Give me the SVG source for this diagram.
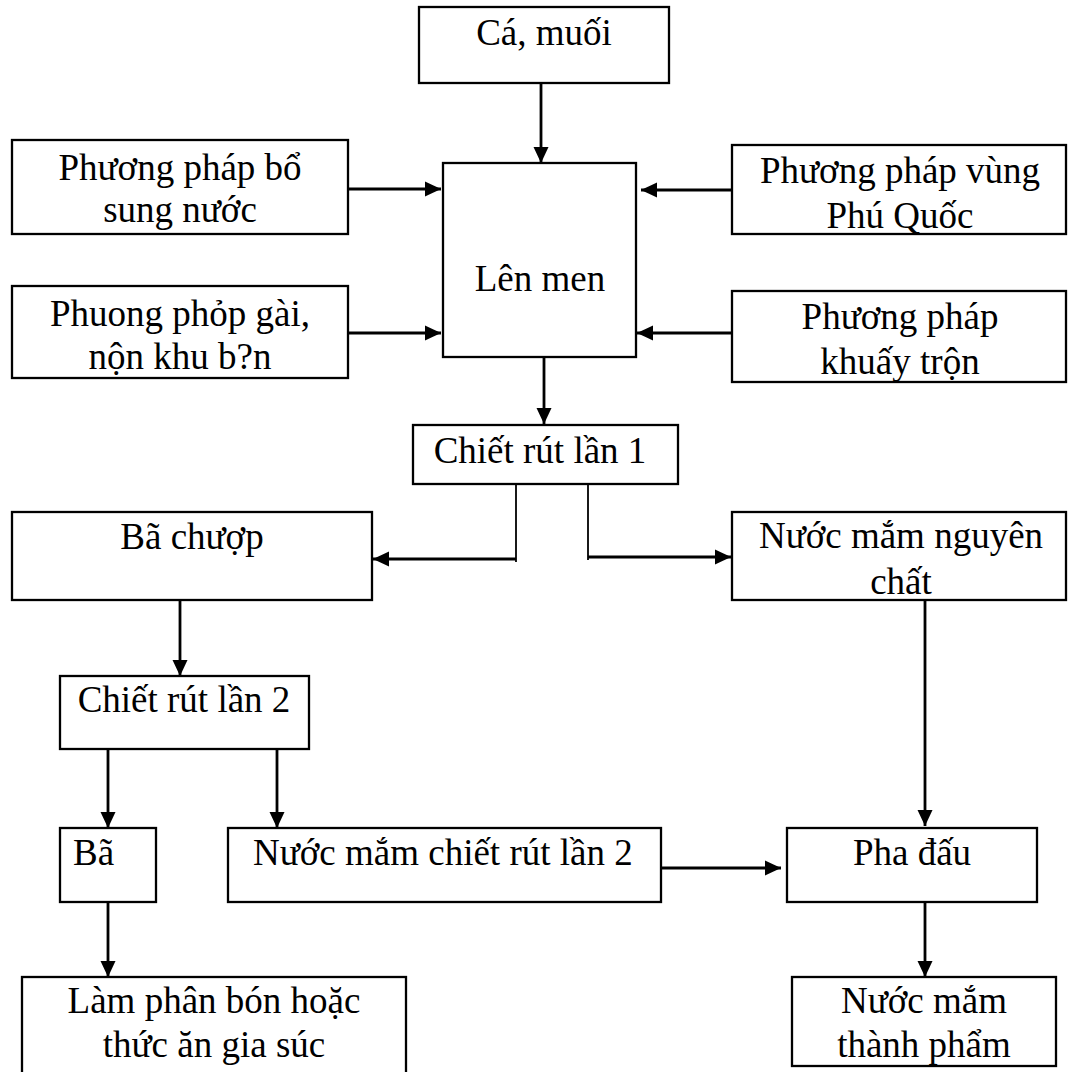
<svg xmlns="http://www.w3.org/2000/svg" width="1069" height="1072" viewBox="0 0 1069 1072">
<defs>
<style>
.box{fill:#fff;stroke:#000;stroke-width:2.3}
.t{font-family:"Liberation Serif","Times New Roman",serif;font-size:37px;fill:#000;text-anchor:middle}
.l{text-anchor:start}
.c{fill:none;stroke:#000;stroke-width:2.8}
.c1{fill:none;stroke:#000;stroke-width:1.8}
</style>
<marker id="ah" markerUnits="userSpaceOnUse" markerWidth="17" markerHeight="16" refX="16" refY="8" orient="auto">
<path d="M0,0.5 L16,8 L0,15.5 z" fill="#000"/>
</marker>
</defs>
<rect width="1069" height="1072" fill="#fff"/>

<g id="connectors">
<line class="c" x1="541" y1="83" x2="541" y2="163" marker-end="url(#ah)"/>
<line class="c" x1="348" y1="189" x2="441" y2="189" marker-end="url(#ah)"/>
<line class="c" x1="348" y1="333" x2="441" y2="333" marker-end="url(#ah)"/>
<line class="c" x1="732" y1="190" x2="641" y2="190" marker-end="url(#ah)"/>
<line class="c" x1="732" y1="333" x2="637" y2="333" marker-end="url(#ah)"/>
<line class="c" x1="544" y1="357" x2="544" y2="424" marker-end="url(#ah)"/>
<line class="c1" x1="516" y1="484" x2="516" y2="562"/>
<line class="c" x1="516" y1="559" x2="373" y2="559" marker-end="url(#ah)"/>
<line class="c1" x1="588" y1="484" x2="588" y2="560"/>
<line class="c" x1="588" y1="557" x2="731" y2="557" marker-end="url(#ah)"/>
<line class="c" x1="180" y1="600" x2="180" y2="676" marker-end="url(#ah)"/>
<line class="c" x1="108" y1="749" x2="108" y2="828" marker-end="url(#ah)"/>
<line class="c" x1="277" y1="749" x2="277" y2="828" marker-end="url(#ah)"/>
<line class="c" x1="661" y1="868" x2="781" y2="868" marker-end="url(#ah)"/>
<line class="c" x1="925" y1="600" x2="925" y2="826" marker-end="url(#ah)"/>
<line class="c" x1="925" y1="902" x2="925" y2="977" marker-end="url(#ah)"/>
<line class="c" x1="108" y1="902" x2="108" y2="977" marker-end="url(#ah)"/>
</g>

<g id="ca_muoi"><rect class="box" x="419" y="7" width="250" height="76"/><text class="t" x="544" y="45">Cá, muối</text></g>
<g id="len_men"><rect class="box" x="443" y="163" width="193" height="194"/><text class="t" x="540" y="291">Lên men</text></g>
<g id="bo_sung_nuoc"><rect class="box" x="12" y="140" width="336" height="94"/><text class="t" x="180" y="180">Phương pháp bổ</text><text class="t" x="180" y="222">sung nước</text></g>
<g id="gai_non"><rect class="box" x="12" y="286" width="336" height="92"/><text class="t" x="180" y="326">Phuong phỏp gài,</text><text class="t" x="180" y="369">nộn khu b?n</text></g>
<g id="phu_quoc"><rect class="box" x="732" y="145" width="334" height="89"/><text class="t" x="900" y="183">Phương pháp vùng</text><text class="t" x="900" y="228">Phú Quốc</text></g>
<g id="khuay_tron"><rect class="box" x="732" y="291" width="334" height="91"/><text class="t" x="900" y="329">Phương pháp</text><text class="t" x="900" y="374">khuấy trộn</text></g>
<g id="chiet_rut_1"><rect class="box" x="413" y="425" width="265" height="59"/><text class="t" x="540" y="463">Chiết rút lần 1</text></g>
<g id="ba_chuop"><rect class="box" x="12" y="512" width="360" height="88"/><text class="t" x="192" y="549">Bã chượp</text></g>
<g id="nuoc_mam_nguyen_chat"><rect class="box" x="732" y="512" width="334" height="88"/><text class="t" x="901" y="548">Nước mắm nguyên</text><text class="t" x="901" y="594">chất</text></g>
<g id="chiet_rut_2"><rect class="box" x="60" y="676" width="249" height="73"/><text class="t" x="184" y="712">Chiết rút lần 2</text></g>
<g id="ba"><rect class="box" x="60" y="828" width="96" height="74"/><text class="t l" x="73" y="865">Bã</text></g>
<g id="nuoc_mam_chiet_rut_2"><rect class="box" x="228" y="828" width="433" height="74"/><text class="t l" x="253" y="865">Nước mắm chiết rút lần 2</text></g>
<g id="pha_dau"><rect class="box" x="787" y="828" width="250" height="74"/><text class="t" x="912" y="865">Pha đấu</text></g>
<g id="lam_phan_bon"><rect class="box" x="22" y="977" width="384" height="100"/><text class="t" x="214" y="1013">Làm phân bón hoặc</text><text class="t" x="214" y="1057">thức ăn gia súc</text></g>
<g id="nuoc_mam_thanh_pham"><rect class="box" x="792" y="977" width="264" height="89"/><text class="t" x="924" y="1013">Nước mắm</text><text class="t" x="924" y="1057">thành phẩm</text></g>
</svg>
